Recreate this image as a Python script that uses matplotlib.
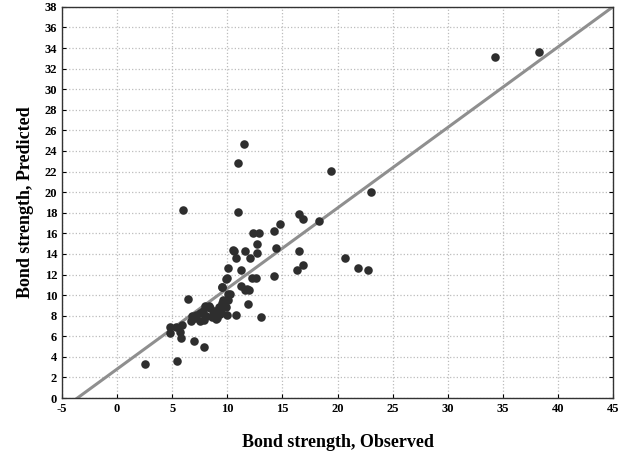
import numpy as np
import matplotlib
matplotlib.use("Agg")
import matplotlib.pyplot as plt

# Observed vs predicted bond strength
observed = [34.3, 38.3, 11.5, 11.0, 19.4, 23.0, 6.0, 11.0, 16.5, 16.9, 18.3, 14.8,
            14.2, 12.3, 12.9, 12.7, 10.6, 11.6, 12.7, 10.8, 12.1, 14.4, 16.5, 20.7,
            16.9, 16.3, 21.9, 22.8, 10.1, 11.2, 10.0, 14.2, 12.2, 12.6, 9.5, 11.2,
            11.8, 10.1, 6.4, 11.9, 13.1, 10.8, 10.0,
            2.5, 5.4, 7.9, 7.0, 5.8, 5.7, 4.8, 4.8, 5.3, 5.9, 6.7, 6.8, 7.1, 7.5,
            7.5, 7.8, 8.1, 8.4, 8.7, 9.0, 9.2, 9.3, 9.5, 9.6, 9.9, 10.1, 10.2, 9.5,
            9.9, 11.6, 12.0, 10.5, 8.3, 8.6, 8.9, 9.1, 7.2, 7.9, 8.0, 9.4]
predicted = [33.1, 33.6, 24.7, 22.8, 22.1, 20.0, 18.3, 18.1, 17.9, 17.4, 17.2, 16.9,
             16.2, 16.0, 16.0, 15.0, 14.3, 14.3, 14.1, 13.6, 13.6, 14.6, 14.3, 13.6,
             12.9, 12.4, 12.6, 12.4, 12.6, 12.4, 11.7, 11.9, 11.7, 11.7, 10.8, 10.9,
             10.6, 10.1, 9.6, 9.1, 7.9, 8.1, 8.1,
             3.3, 3.6, 5.0, 5.5, 5.8, 6.4, 6.9, 6.3, 6.9, 7.1, 7.5, 8.0, 7.8, 7.5,
             8.3, 8.5, 8.0, 8.7, 8.2, 7.7, 8.8, 8.2, 9.2, 9.5, 8.8, 9.5, 10.1, 10.8,
             11.6, 10.5, 10.5, 14.4, 8.9, 7.9, 8.5, 7.8, 8.1, 7.6, 8.9, 8.4]

# Fitted line
fit_slope = 0.782
fit_intercept = 2.82

plt.rcParams['font.family'] = ['Liberation Serif', 'DejaVu Serif']
plt.rcParams['axes.unicode_minus'] = False

fig = plt.figure(figsize=(6.29, 4.57), dpi=100)
ax = fig.add_axes([0.0986, 0.129, 0.876, 0.856])

ax.grid(True, linestyle=':', color='#bcbcbc', linewidth=0.9)
ax.set_axisbelow(True)

xs = np.array([-5, 45])
ax.plot(xs, fit_slope * xs + fit_intercept, color='#8f8f8f', linewidth=2.2, zorder=2)

ax.scatter(observed, predicted, s=38, color='#2e2e2e', zorder=3, linewidths=0)

ax.set_xlim(-5, 45)
ax.set_ylim(0, 38)
ax.set_xticks(np.arange(-5, 46, 5))
ax.set_yticks(np.arange(0, 39, 2))
ax.tick_params(direction='in', length=3, labelsize=9, right=True, top=False, width=0.8)
for lbl in ax.get_xticklabels() + ax.get_yticklabels():
    lbl.set_fontweight('bold')
for sp in ax.spines.values():
    sp.set_color('#333333')
    sp.set_linewidth(1.0)

ax.set_xlabel('Bond strength, Observed', fontsize=13, fontweight='bold', labelpad=14)
ax.set_ylabel('Bond strength, Predicted', fontsize=13, fontweight='bold', labelpad=8)

fig.savefig('out.png', dpi=100)
